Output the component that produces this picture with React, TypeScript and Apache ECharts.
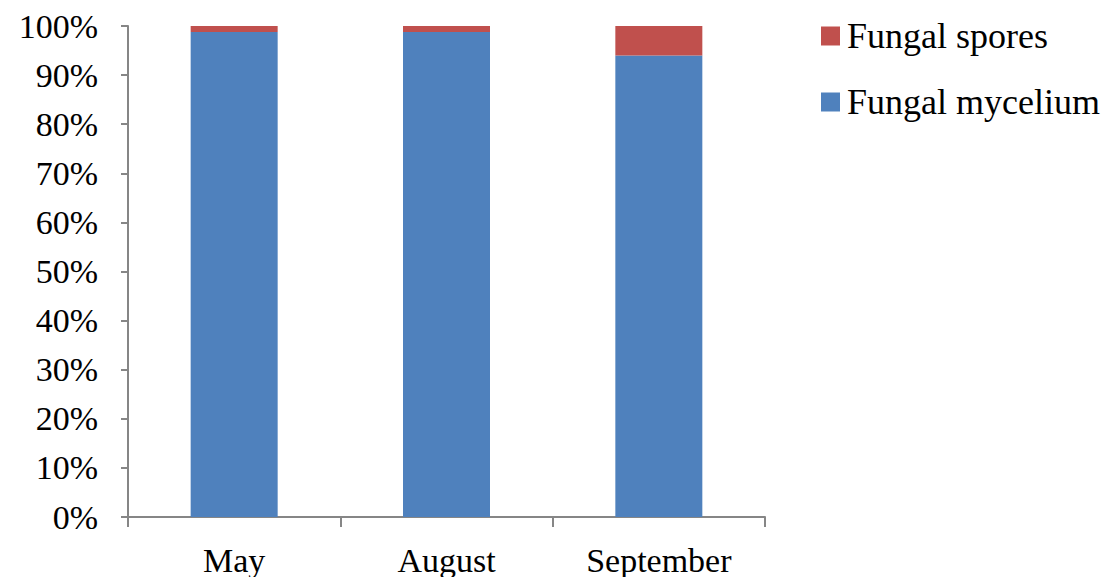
import React, { useEffect, useRef } from "react";
import * as echarts from "echarts";

const categories = ["May", "August", "September"];
const myceliumValues = [98.8, 98.8, 94.0];
const sporesValues = [1.2, 1.2, 6.0];
const seriesNames = ["Fungal spores", "Fungal mycelium"];

export default function App() {
  const ref = useRef<HTMLDivElement>(null);
  useEffect(() => {
    const chart = echarts.init(ref.current!, null, { renderer: "svg" });
    const font = "'Liberation Serif', 'Times New Roman', serif";
    chart.setOption({
      animation: false,
      backgroundColor: "#ffffff",
      grid: { left: 120, top: 18, right: 341, bottom: 57, containLabel: false },
      legend: {
        orient: "vertical",
        left: 808,
        top: 5,
        itemWidth: 19,
        itemHeight: 19,
        itemGap: 30,
        icon: "rect",
        data: [seriesNames[0], seriesNames[1]],
        textStyle: { fontFamily: font, fontSize: 36, color: "#000", padding: [0, 0, 0, 2] },
      },
      xAxis: {
        type: "category",
        data: categories,
        axisLine: { lineStyle: { color: "#868686", width: 2 } },
        axisTick: { show: true, length: 10, lineStyle: { color: "#868686", width: 2 } },
        axisLabel: { fontFamily: font, fontSize: 34, color: "#000", margin: 26 },
      },
      yAxis: {
        type: "value",
        min: 0,
        max: 100,
        interval: 10,
        axisLine: { show: true, lineStyle: { color: "#868686", width: 2 } },
        axisTick: { show: true, length: 7, lineStyle: { color: "#868686", width: 2 } },
        splitLine: { show: false },
        axisLabel: {
          fontFamily: font,
          fontSize: 34,
          color: "#000",
          margin: 30,
          formatter: "{value}%",
        },
      },
      series: [
        {
          name: seriesNames[1],
          type: "bar",
          stack: "total",
          barWidth: 87,
          data: myceliumValues,
          itemStyle: { color: "#4F81BD" },
        },
        {
          name: seriesNames[0],
          type: "bar",
          stack: "total",
          barWidth: 87,
          data: sporesValues,
          itemStyle: { color: "#C0504D" },
        },
      ],
    });
    return () => chart.dispose();
  }, []);
  return <div ref={ref} style={{ width: 1098, height: 569 }} />;
}
